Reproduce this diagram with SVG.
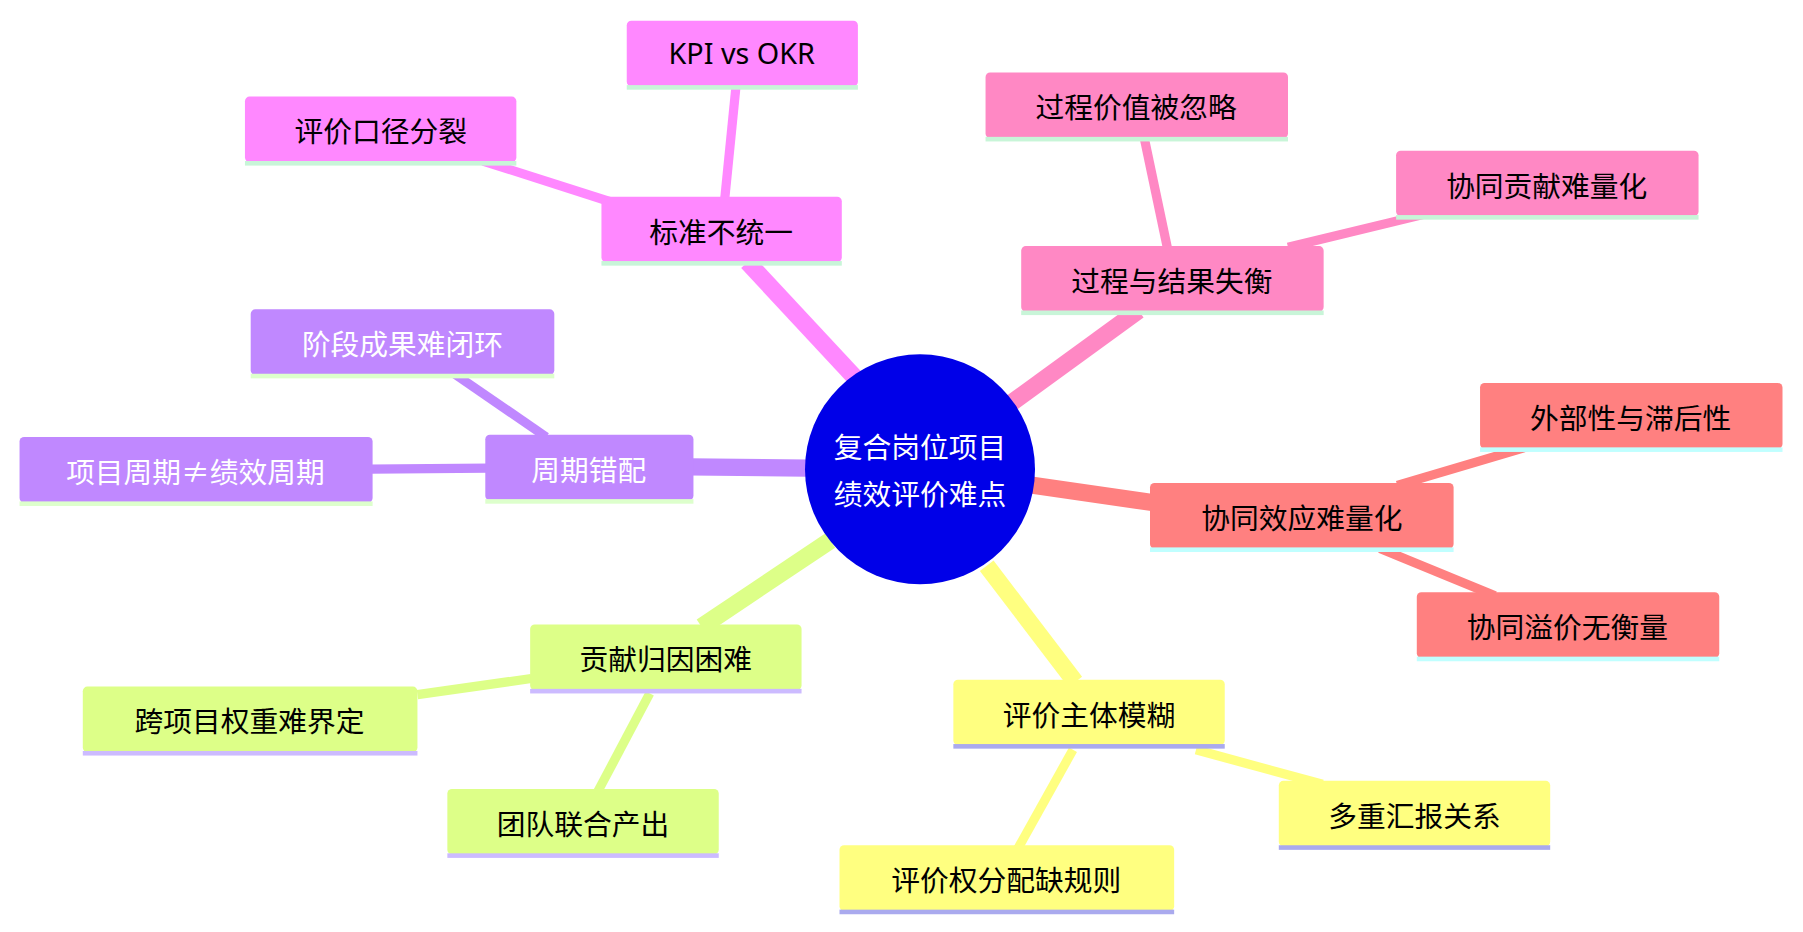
<svg xmlns="http://www.w3.org/2000/svg" width="1803" height="932" viewBox="0 0 1803 932">
<style>
text{font-family:"Noto Sans CJK SC","Noto Sans",sans-serif;font-size:25px;text-anchor:middle;dominant-baseline:central}
.w{fill:#fff}
.a{fill:#ff88ff}.b{fill:#ff88c4}.c{fill:#ff8080}.d{fill:#ffff80}.e{fill:#ddff88}.f{fill:#c088ff}
.ua{fill:#c8f5d8}.uc{fill:#c0ffff}.ud{fill:#aaaaee}.ue{fill:#ccbbff}.uf{fill:#ddffcc}
.la{stroke:#ff88ff}.lb{stroke:#ff88c4}.lc{stroke:#ff8080}.ld{stroke:#ffff80}.le{stroke:#ddff88}.lf{stroke:#c088ff}
line{stroke-linecap:butt}
</style>
<rect width="1803" height="932" fill="#fff"/>
<g transform="scale(1.15)">
<g id="connectors" fill="none">
<line class="la" x1="745" y1="330" x2="650" y2="228" stroke-width="15"/>
<line class="la" x1="630" y1="175" x2="640" y2="75" stroke-width="8"/>
<line class="la" x1="545" y1="180" x2="420" y2="140" stroke-width="8"/>
<line class="lb" x1="880" y1="350" x2="990" y2="270" stroke-width="15"/>
<line class="lb" x1="1015" y1="215" x2="995" y2="120" stroke-width="8"/>
<line class="lb" x1="1120" y1="215" x2="1240" y2="186" stroke-width="8"/>
<line class="lc" x1="898" y1="422" x2="1002" y2="437" stroke-width="15"/>
<line class="lc" x1="1215" y1="422" x2="1330" y2="388" stroke-width="8"/>
<line class="lc" x1="1200" y1="477" x2="1300" y2="518" stroke-width="8"/>
<line class="ld" x1="858" y1="492" x2="935" y2="593" stroke-width="15"/>
<line class="ld" x1="1040" y1="652" x2="1150" y2="682" stroke-width="8"/>
<line class="ld" x1="933" y1="652" x2="885" y2="738" stroke-width="8"/>
<line class="le" x1="722" y1="470" x2="610" y2="545" stroke-width="15"/>
<line class="le" x1="462" y1="590" x2="363" y2="604" stroke-width="8"/>
<line class="le" x1="565" y1="603" x2="520" y2="688" stroke-width="8"/>
<line class="lf" x1="702" y1="407" x2="600" y2="406" stroke-width="15"/>
<line class="lf" x1="475" y1="380" x2="395" y2="325" stroke-width="8"/>
<line class="lf" x1="425" y1="407" x2="322" y2="408" stroke-width="8"/>
</g>
<g id="center"><ellipse cx="800" cy="408" rx="100" ry="100" fill="#0000e8"/><text class="w" x="800" y="387">复合岗位项目</text><text class="w" x="800" y="428">绩效评价难点</text></g>
<g id="n1"><rect class="a" x="523" y="171" width="209" height="57" rx="4"/><rect class="ua" x="523" y="227" width="209" height="4"/><text x="627" y="200">标准不统一</text></g>
<g id="n1a"><rect class="a" x="545" y="18" width="201" height="57" rx="4"/><rect class="ua" x="545" y="74" width="201" height="4"/><text x="645" y="46" style="font-family:'Noto Sans',sans-serif">KPI vs OKR</text></g>
<g id="n1b"><rect class="a" x="213" y="84" width="236" height="57" rx="4"/><rect class="ua" x="213" y="140" width="236" height="4"/><text x="331" y="113">评价口径分裂</text></g>
<g id="n2"><rect class="b" x="888" y="214" width="263" height="57" rx="4"/><rect class="ua" x="888" y="270" width="263" height="4"/><text x="1019" y="243">过程与结果失衡</text></g>
<g id="n2a"><rect class="b" x="857" y="63" width="263" height="57" rx="4"/><rect class="ua" x="857" y="119" width="263" height="4"/><text x="988" y="92">过程价值被忽略</text></g>
<g id="n2b"><rect class="b" x="1214" y="131" width="263" height="57" rx="4"/><rect class="ua" x="1214" y="187" width="263" height="4"/><text x="1345" y="160">协同贡献难量化</text></g>
<g id="n3"><rect class="c" x="1000" y="420" width="264" height="57" rx="4"/><rect class="uc" x="1000" y="476" width="264" height="4"/><text x="1132" y="449">协同效应难量化</text></g>
<g id="n3a"><rect class="c" x="1287" y="333" width="263" height="57" rx="4"/><rect class="uc" x="1287" y="389" width="263" height="4"/><text x="1418" y="362">外部性与滞后性</text></g>
<g id="n3b"><rect class="c" x="1232" y="515" width="263" height="57" rx="4"/><rect class="uc" x="1232" y="571" width="263" height="4"/><text x="1363" y="544">协同溢价无衡量</text></g>
<g id="n4"><rect class="d" x="829" y="591" width="236" height="57" rx="4"/><rect class="ud" x="829" y="647" width="236" height="4"/><text x="947" y="620">评价主体模糊</text></g>
<g id="n4a"><rect class="d" x="1112" y="679" width="236" height="57" rx="4"/><rect class="ud" x="1112" y="735" width="236" height="4"/><text x="1230" y="708">多重汇报关系</text></g>
<g id="n4b"><rect class="d" x="730" y="735" width="291" height="57" rx="4"/><rect class="ud" x="730" y="791" width="291" height="4"/><text x="875" y="764">评价权分配缺规则</text></g>
<g id="n5"><rect class="e" x="461" y="543" width="236" height="57" rx="4"/><rect class="ue" x="461" y="599" width="236" height="4"/><text x="579" y="572">贡献归因困难</text></g>
<g id="n5a"><rect class="e" x="72" y="597" width="291" height="57" rx="4"/><rect class="ue" x="72" y="653" width="291" height="4"/><text x="217" y="626">跨项目权重难界定</text></g>
<g id="n5b"><rect class="e" x="389" y="686" width="236" height="57" rx="4"/><rect class="ue" x="389" y="742" width="236" height="4"/><text x="507" y="715">团队联合产出</text></g>
<g id="n6"><rect class="f" x="422" y="378" width="181" height="57" rx="4"/><rect class="uf" x="422" y="434" width="181" height="4"/><text class="w" x="512" y="407">周期错配</text></g>
<g id="n6a"><rect class="f" x="218" y="269" width="264" height="57" rx="4"/><rect class="uf" x="218" y="325" width="264" height="4"/><text class="w" x="350" y="298">阶段成果难闭环</text></g>
<g id="n6b"><rect class="f" x="17" y="380" width="307" height="57" rx="4"/><rect class="uf" x="17" y="436" width="307" height="4"/><text class="w" x="170" y="409">项目周期≠绩效周期</text></g>
</g>
</svg>
